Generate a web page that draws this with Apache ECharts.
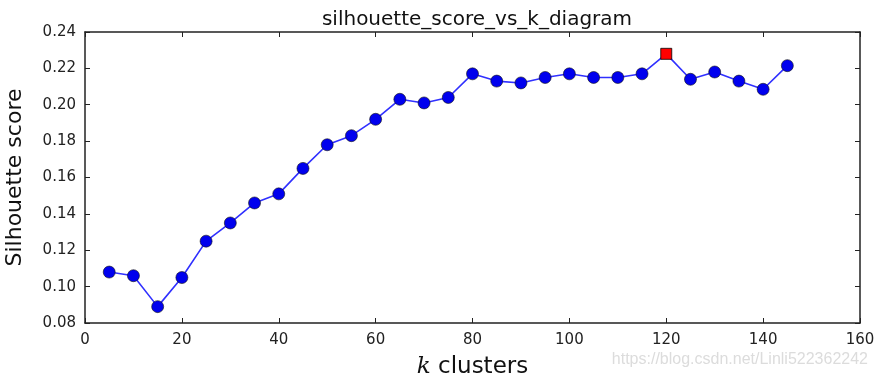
<!DOCTYPE html>
<html><head><meta charset="utf-8">
<script src="https://cdn.jsdelivr.net/npm/echarts@6/dist/echarts.min.js"></script>
<style>html,body{margin:0;padding:0;background:#fff}#c{width:877px;height:379px}</style>
</head><body><div id="c"></div>
<script>
var kValues = [5,10,15,20,25,30,35,40,45,50,55,60,65,70,75,80,85,90,95,100,105,110,115,120,125,130,135,140,145];
var scores = [0.108,0.106,0.089,0.105,0.125,0.135,0.146,0.151,0.165,0.178,0.183,0.192,0.203,0.201,0.204,0.217,0.213,0.212,0.215,0.217,0.215,0.215,0.217,0.228,0.214,0.218,0.213,0.2085,0.2215];
var bestK = 120;
var xTicks = [0,20,40,60,80,100,120,140,160];
var yTicks = [0.08,0.10,0.12,0.14,0.16,0.18,0.20,0.22,0.24];

var font = 'DejaVu Sans';
var data = kValues.map(function(k,i){
  var item = {value:[k,scores[i]]};
  if (k === bestK) {
    item.symbol = 'rect';
    item.symbolSize = 11;
    item.itemStyle = {color:'#ff0000', borderColor:'#000', borderWidth:0.8};
    item.z = 5;
  }
  return item;
});
var axisCommon = {
  axisLine:{show:true,onZero:false,lineStyle:{color:'#222',width:1.5}},
  axisTick:{show:true,inside:true,length:5,lineStyle:{color:'#222',width:1}},
  splitLine:{show:false}
};
var chart = echarts.init(document.getElementById('c'));
chart.setOption({
  animation:false,
  backgroundColor:'#fff',
  title:{text:'silhouette_score_vs_k_diagram',left:472,top:5,textAlign:'center',
    textStyle:{fontFamily:font,fontSize:20,fontWeight:'normal',color:'#111'}},
  grid:{left:85,right:17,top:32,bottom:56,containLabel:false,outerBoundsMode:'none'},
  xAxis:[
    Object.assign({type:'value',min:xTicks[0],max:xTicks[xTicks.length-1],interval:20,position:'bottom',
      name:'{i|k} clusters',nameLocation:'middle',nameGap:33,
      nameTextStyle:{fontFamily:font,fontSize:23,color:'#111',rich:{i:{fontFamily:'DejaVu Serif',fontStyle:'italic',fontSize:23,color:'#111'}}},
      axisLabel:{fontFamily:font,fontSize:15,color:'#222',margin:10}},axisCommon),
    Object.assign({type:'value',min:xTicks[0],max:xTicks[xTicks.length-1],interval:20,position:'top',
      axisLabel:{show:false}},axisCommon)
  ],
  yAxis:[
    Object.assign({type:'value',min:yTicks[0],max:yTicks[yTicks.length-1],interval:0.02,position:'left',
      name:'Silhouette score',nameLocation:'middle',nameGap:59,
      nameTextStyle:{fontFamily:font,fontSize:22,color:'#111'},
      axisLabel:{fontFamily:font,fontSize:15,color:'#222',margin:9,formatter:function(v){return v.toFixed(2);}}},axisCommon),
    Object.assign({type:'value',min:yTicks[0],max:yTicks[yTicks.length-1],interval:0.02,position:'right',
      axisLabel:{show:false}},axisCommon)
  ],
  series:[{
    type:'line',xAxisIndex:0,yAxisIndex:0,data:data,
    symbol:'circle',symbolSize:12,
    lineStyle:{color:'#3030ff',width:1.6},
    itemStyle:{color:'#0000ee',borderColor:'#111',borderWidth:0.6}
  }],
  graphic:[{type:'text',right:9,top:352,style:{text:'https://blog.csdn.net/Linli522362242',
    font:'16px "Liberation Sans"',fill:'#dcdcdc'}}]
});
</script></body></html>
